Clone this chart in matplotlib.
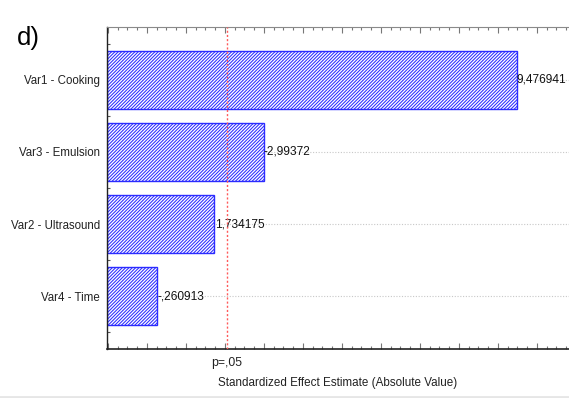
import matplotlib
matplotlib.use("Agg")
import matplotlib.pyplot as plt
from matplotlib.ticker import MultipleLocator, NullFormatter

plt.rcParams["font.family"] = ["Liberation Sans", "DejaVu Sans"]
plt.rcParams["hatch.color"] = "#4a4aff"
plt.rcParams["hatch.linewidth"] = 0.75

# Pareto chart of standardized effects
factors = ["Var1 - Cooking", "Var3 - Emulsion", "Var2 - Ultrasound", "Var4 - Time"]
effects = [9.476941, -2.99372, 1.734175, -0.260913]
effect_labels = ["9,476941", "-2,99372", "1,734175", "-,260913"]
p_crit = 2.045
p_label = "p=,05"

x_min, x_max = -1.02, 10.85

fig = plt.figure(figsize=(5.69, 3.98), dpi=100)
ax = fig.add_axes([107 / 569, 1 - 349 / 398, 1 - 107 / 569 + 0.002, (349 - 27) / 398])

ypos = list(range(len(factors)))
widths = [abs(v) - x_min for v in effects]
ax.barh(ypos, widths, left=x_min, height=0.8, color="white",
        edgecolor="#2b2bff", hatch="/" * 10, linewidth=1.0, zorder=2)

for y, v, lab in zip(ypos, effects, effect_labels):
    ax.text(abs(v) + 0.01, y, lab, ha="left", va="center", fontsize=8.6,
            color="#111111", zorder=3)

ax.axvline(p_crit, color="#ff5a5a", linestyle=(0, (1.5, 1.5)), linewidth=1.0, zorder=3)

ax.set_xlim(x_min, x_max)
ax.set_ylim(len(factors) - 1 + 0.736, -0.736)
ax.set_yticks(ypos)
ax.set_yticklabels(factors, fontsize=8.3)
ax.yaxis.set_minor_locator(MultipleLocator(0.25))
ax.xaxis.set_major_locator(MultipleLocator(1))
ax.xaxis.set_minor_locator(MultipleLocator(0.25))
ax.xaxis.set_major_formatter(NullFormatter())

ax.grid(axis="y", color="#c8c8c8", linestyle=(0, (1, 1.5)), linewidth=0.8, zorder=0)
ax.set_axisbelow(True)

ax.spines["right"].set_visible(False)
ax.spines["top"].set_color("#8a8a8a")
ax.spines["left"].set_color("#222222")
ax.spines["bottom"].set_color("#222222")
ax.spines["bottom"].set_linewidth(1.2)
ax.spines["left"].set_linewidth(1.0)

ax.tick_params(axis="x", which="both", direction="in", top=True, colors="#777777")
ax.tick_params(axis="x", which="major", length=4, width=0.8)
ax.tick_params(axis="x", which="minor", length=2, width=0.8)
ax.tick_params(axis="y", which="both", direction="in", colors="#555555", labelcolor="#222222")
ax.tick_params(axis="y", which="major", length=4, width=0.8, pad=5)
ax.tick_params(axis="y", which="minor", length=2, width=0.8)

pos = ax.get_position()
fig.text(pos.x0 + (p_crit - x_min) / (x_max - x_min) * pos.width,
         1 - 363 / 398, p_label, ha="center", va="center", fontsize=8.8, color="#222222")
fig.text(338 / 569, 1 - 383 / 398, "Standardized Effect Estimate (Absolute Value)",
         ha="center", va="center", fontsize=8.4, color="#222222")
fig.text(17 / 569, 1 - 38 / 398, "d)", ha="left", va="center", fontsize=18.5, color="black")

# thin border line along the bottom of the figure
fig.add_artist(plt.Line2D([0, 1], [0.003, 0.003], color="#e6e6e6", linewidth=2,
                          transform=fig.transFigure))

fig.savefig("out.png", dpi=100)
